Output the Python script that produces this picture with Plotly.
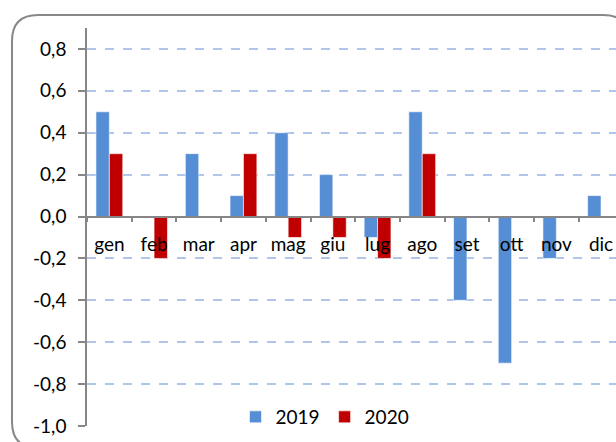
import plotly.graph_objects as go

months = ["gen", "feb", "mar", "apr", "mag", "giu", "lug", "ago", "set", "ott", "nov", "dic"]
v2019 = [0.5, 0.0, 0.3, 0.1, 0.4, 0.2, -0.1, 0.5, -0.4, -0.7, -0.2, 0.1]
v2020 = [0.3, -0.2, 0.0, 0.3, -0.1, -0.1, -0.2, 0.3, None, None, None, None]
ytickvals = [-1.0, -0.8, -0.6, -0.4, -0.2, 0.0, 0.2, 0.4, 0.6, 0.8]
yticktext = ["-1,0", "-0,8", "-0,6", "-0,4", "-0,2", "0,0", "0,2", "0,4", "0,6", "0,8"]

W, H = 616, 442
L, R, T, B = 87, 0, 28, 16
pw, ph = W - L - R, H - T - B
ymin, ymax = -1.0, 0.9
catw = 44.7

def px(x):
    return (x - L) / pw

def py(y):
    return (H - B - y) / ph

fig = go.Figure()
fig.add_trace(go.Bar(x=months, y=v2019, name="2019", marker_color="#558ED5",
                     marker_line=dict(color="rgba(255,255,255,0.6)", width=1)))
fig.add_trace(go.Bar(x=months, y=v2020, name="2020", marker_color="#C00000",
                     marker_line=dict(color="rgba(255,255,255,0.6)", width=1)))

font = dict(family="Lato, Liberation Sans, sans-serif", size=19, color="#000000")

# rounded frame
x0, x1, y0, y1, r = px(12), px(629), py(15), py(448), 26
rx, ry = r / pw, r / ph
path = (f"M {x0+rx},{y0} L {x1-rx},{y0} Q {x1},{y0} {x1},{y0-ry} "
        f"L {x1},{y1+ry} Q {x1},{y1} {x1-rx},{y1} L {x0+rx},{y1} "
        f"Q {x0},{y1} {x0},{y1+ry} L {x0},{y0-ry} Q {x0},{y0} {x0+rx},{y0} Z")
fig.add_shape(type="path", path=path, xref="paper", yref="paper",
              line=dict(color="#888888", width=2), fillcolor="rgba(0,0,0,0)", layer="below")

fig.update_layout(
    width=W, height=H,
    margin=dict(l=L, r=R, t=T, b=B, pad=0, autoexpand=False),
    paper_bgcolor="white", plot_bgcolor="white",
    barmode="group", bargap=0.4, bargroupgap=0,
    font=font,
    showlegend=True,
    legend=dict(orientation="h", x=px(325), xanchor="center", y=py(417), yanchor="middle",
                font=dict(size=19), tracegroupgap=0, bgcolor="rgba(0,0,0,0)"),
    xaxis=dict(
        range=[-0.5, -0.5 + pw / catw],
        showgrid=False, showline=True, linecolor="#868686", linewidth=1.5,
        ticks="outside", tickson="boundaries", ticklen=5, tickcolor="#868686", tickwidth=1.5,
        anchor="free", position=(0 - ymin) / (ymax - ymin),
        ticklabelstandoff=11, tickfont=font, zeroline=False, automargin=False,
    ),
    yaxis=dict(
        range=[ymin, ymax], tickvals=ytickvals, ticktext=yticktext,
        showgrid=True, gridcolor="#AFC5EA", griddash="dash", gridwidth=1.5,
        showline=True, linecolor="#868686", linewidth=1.5,
        ticks="outside", ticklen=7, tickcolor="#868686", tickwidth=1.5,
        ticklabelstandoff=8, tickfont=font, zeroline=False, automargin=False,
    ),
)

fig.write_html("out.html", config={"displayModeBar": False},
               post_script="document.body.style.margin='0';document.body.style.padding='0';")
